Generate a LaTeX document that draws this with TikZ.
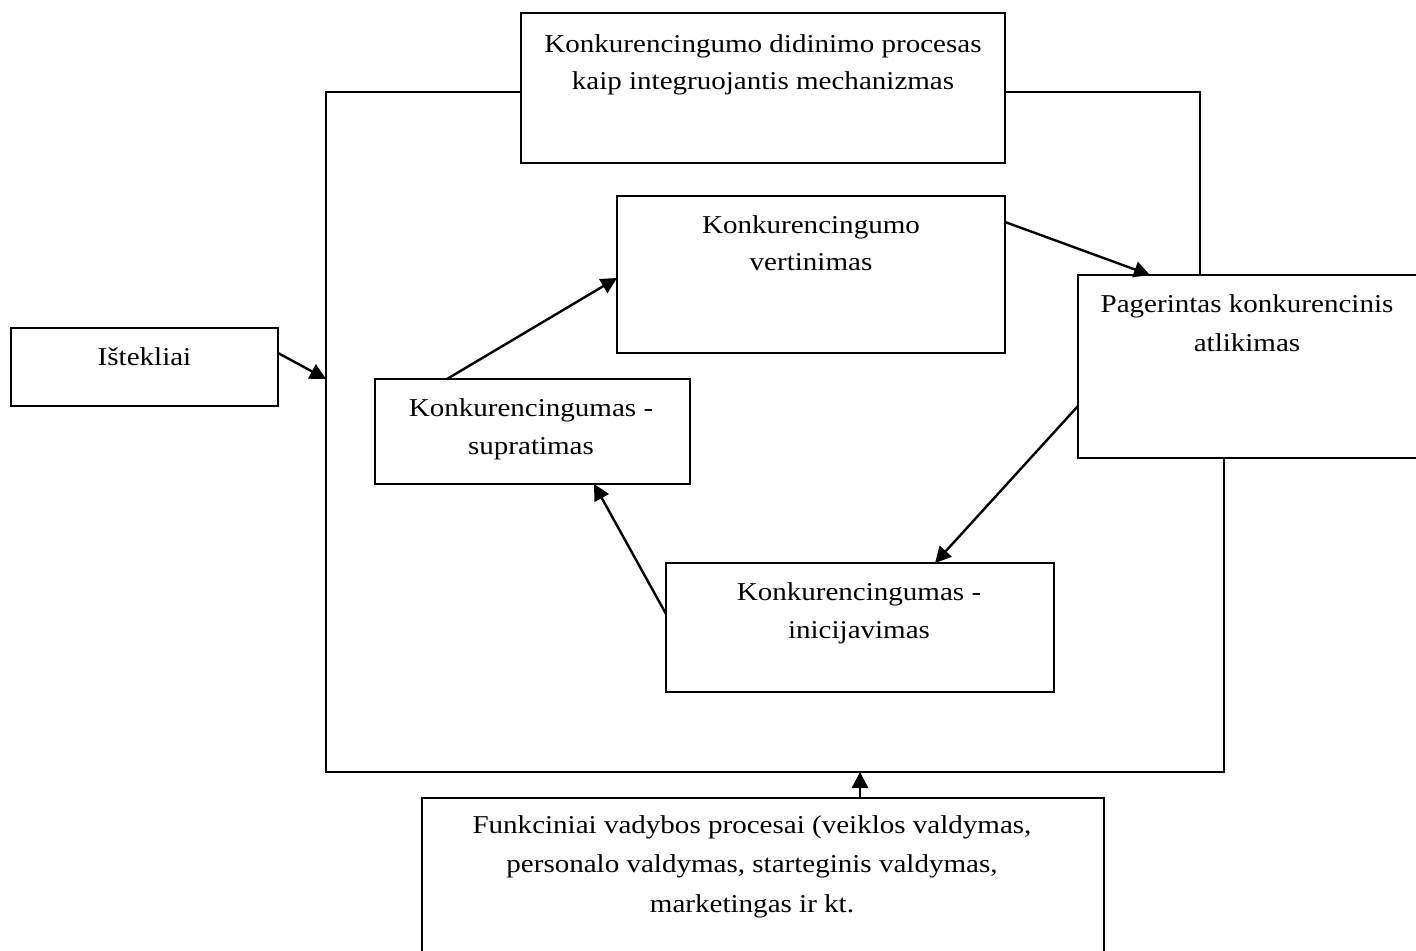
\documentclass[tikz,border=0pt]{standalone}
\usepackage{fontspec}
\setmainfont{Liberation Serif}[FakeStretch=1.13]
\usetikzlibrary{arrows.meta,calc}
\begin{document}
\begin{tikzpicture}[x=0.5pt,y=-0.5pt,
  box/.style={draw,line width=1.1pt,fill=white,inner sep=0pt,outer sep=0pt},
  txt/.style={font=\fontsize{12.85pt}{18.75pt}\selectfont,align=center,inner sep=0pt,anchor=base},
  txtw/.style={font=\fontsize{12.85pt}{19.75pt}\selectfont,align=center,inner sep=0pt,anchor=base},
  frameline/.style={line width=1.1pt},
  conn/.style={line width=1.2pt,-{Triangle[length=8pt,width=8pt]}}]
\useasboundingbox (0,0) rectangle (1416,951);
% outer frame
\coordinate (fa) at (521,92);
\coordinate (fb1) at (326,92);
\coordinate (fb2) at (326,772);
\coordinate (fc) at (1224,772);
\coordinate (fd) at (1224,458);
\coordinate (fe) at (1005,92);
\coordinate (ff) at (1200,92);
\coordinate (fg) at (1200,275);
\coordinate (fl) at (326,379);
\coordinate (fbot) at (860,772);
\draw[frameline] (fa) -- (fb1) -- (fb2) -- (fc) -- (fd);
\draw[frameline] (fe) -- (ff) -- (fg);
% boxes
\node[box,minimum width=242pt,minimum height=75pt] (top) at (763,88) {};
\node[box,minimum width=194pt,minimum height=78.5pt] (vert) at (811,274.5) {};
\node[box,minimum width=172pt,minimum height=91.5pt] (pag) at (1250,366.5) {};
\node[box,minimum width=133.5pt,minimum height=39pt] (ist) at (144.5,367) {};
\node[box,minimum width=157.5pt,minimum height=52.5pt] (sup) at (532.5,431.5) {};
\node[box,minimum width=194pt,minimum height=64.5pt] (ini) at (860,627.5) {};
\node[box,minimum width=341pt,minimum height=81pt] (fun) at (763,879) {};
% texts (anchor = baseline of last line)
\node[txt] (ttop) at (763,90) {Konkurencingumo didinimo procesas\\kaip integruojantis mechanizmas};
\node[txt] (tvert) at (811,271) {Konkurencingumo\\vertinimas};
\node[txtw] (tpag) at (1247,352) {Pagerintas konkurencinis\\atlikimas};
\node[txt] (tist) at (144.5,366) {Ištekliai};
\node[txt] (tsup) at (531,454) {Konkurencingumas -\\supratimas};
\node[txt] (tini) at (859,638) {Konkurencingumas -\\inicijavimas};
\node[txtw] (tfun) at (752,912) {Funkciniai vadybos procesai (veiklos valdymas,\\personalo valdymas, starteginis valdymas,\\marketingas ir kt.};
% connectors
\draw[conn] ($(ist.north east)+(0,25)$) -- (fl);
\draw[conn] ($(sup.north west)+(72,0)$) -- ($(vert.north west)+(0,82)$);
\draw[conn] ($(vert.north east)+(0,26)$) -- ($(pag.north west)+(72,0)$);
\draw[conn] ($(pag.north west)+(0,131)$) -- ($(ini.north west)+(269,0)$);
\draw[conn] ($(ini.north west)+(0,51)$) -- ($(sup.south west)+(219,0)$);
\draw[conn] ($(fun.north west)+(438,0)$) -- (fbot);
\end{tikzpicture}
\end{document}
